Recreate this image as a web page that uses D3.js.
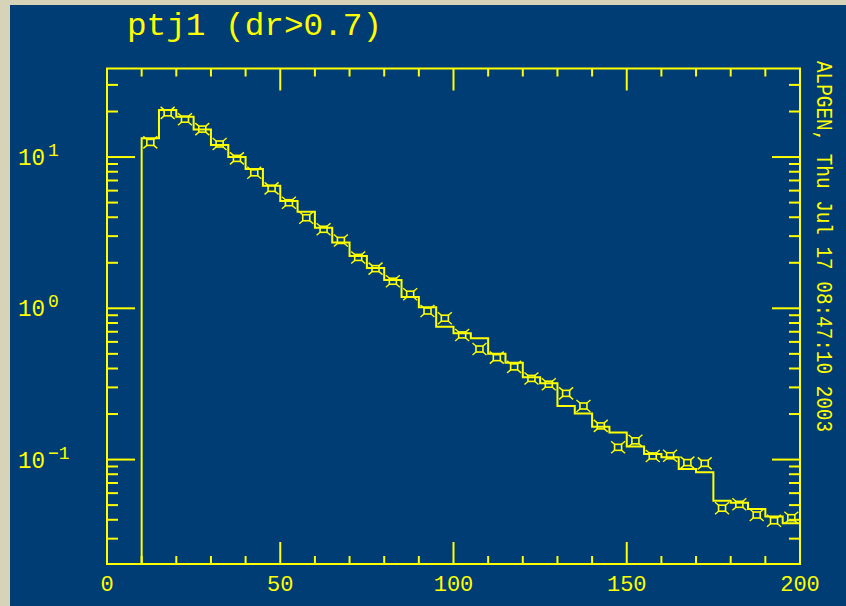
<!DOCTYPE html>
<html>
<head>
<meta charset="utf-8">
<script src="https://cdn.jsdelivr.net/npm/d3@7"></script>
<style>
  html, body { margin: 0; padding: 0; background: #d6d3b9; }
  svg { display: block; }
  text { font-family: "Liberation Mono", "DejaVu Sans Mono", monospace; fill: #ffff00; }
</style>
</head>
<body>
<div id="chart"></div>
<script>
// histogram bins (lower edge), width 5
const binStart = [10, 15, 20, 25, 30, 35, 40, 45, 50, 55, 60, 65, 70, 75, 80, 85, 90, 95, 100,
                  105, 110, 115, 120, 125, 130, 135, 140, 145, 150, 155, 160, 165, 170, 175,
                  180, 185, 190, 195];
const binEnd = 200;
// solid histogram
const histValues = [13.3, 20.5, 18.5, 15.2, 12.0, 10.0, 8.34, 6.45, 5.12, 4.35, 3.41, 2.72, 2.22,
                    1.85, 1.54, 1.19, 1.015, 0.755, 0.684, 0.634, 0.50, 0.436, 0.35, 0.319, 0.226,
                    0.202, 0.165, 0.151, 0.122, 0.109, 0.1035, 0.0866, 0.0824, 0.0535, 0.0518,
                    0.0472, 0.042, 0.038];
// points with error markers, at bin centres
const pointX = [12.5, 17.5, 22.5, 27.5, 32.5, 37.5, 42.5, 47.5, 52.5, 57.5, 62.5, 67.5, 72.5, 77.5,
                82.5, 87.5, 92.5, 97.5, 102.5, 107.5, 112.5, 117.5, 122.5, 127.5, 132.5, 137.5,
                142.5, 147.5, 152.5, 157.5, 162.5, 167.5, 172.5, 177.5, 182.5, 187.5, 192.5, 197.5];
const pointValues = [12.5, 19.6, 17.8, 15.3, 12.2, 9.8, 7.87, 6.21, 4.99, 3.97, 3.33, 2.81, 2.17,
                     1.83, 1.51, 1.24, 0.96, 0.86, 0.667, 0.538, 0.472, 0.41, 0.344, 0.315, 0.274,
                     0.226, 0.167, 0.1205, 0.133, 0.1057, 0.106, 0.0955, 0.0944, 0.0477, 0.0506,
                     0.043, 0.0394, 0.0413];
const xLabels = [0, 50, 100, 150, 200];
const yLabels = [{base: '10', exp: '1', v: 10}, {base: '10', exp: '0', v: 1}, {base: '10', exp: '\u22121', v: 0.1}];
const title = 'ptj1 (dr>0.7)';
const stamp = 'ALPGEN, Thu Jul 17 08:47:10 2003';

const width = 846, height = 606;
const mLeft = 107, mRight = 800, mTop = 68.5, mBottom = 564;
const yellow = '#ffff00';

const svg = d3.select('#chart').append('svg')
    .attr('width', width).attr('height', height);

// panel
svg.append('rect')
    .attr('x', 10).attr('y', 5)
    .attr('width', width - 10).attr('height', height - 5)
    .attr('fill', '#003d74');

const x = d3.scaleLinear().domain([0, 200]).range([mLeft, mRight]);
const y = d3.scaleLog().domain([0.0204, 38.5]).range([mBottom, mTop]);

const g = svg.append('g')
    .attr('stroke', yellow)
    .attr('stroke-width', 2)
    .attr('fill', 'none');

// frame
g.append('rect')
    .attr('x', mLeft).attr('y', mTop)
    .attr('width', mRight - mLeft).attr('height', mBottom - mTop);

// x ticks top and bottom
const xt = x.ticks(20);
xt.forEach(t => {
    const len = t % 50 === 0 ? 22 : 8;
    g.append('line').attr('x1', x(t)).attr('x2', x(t)).attr('y1', mBottom).attr('y2', mBottom - len);
    g.append('line').attr('x1', x(t)).attr('x2', x(t)).attr('y1', mTop).attr('y2', mTop + len);
});

// y ticks left and right
const yt = y.ticks();
yt.forEach(t => {
    const major = Math.abs(Math.log10(t) - Math.round(Math.log10(t))) < 1e-9;
    const len = major ? 28 : 11;
    g.append('line').attr('x1', mLeft).attr('x2', mLeft + len).attr('y1', y(t)).attr('y2', y(t));
    g.append('line').attr('x1', mRight).attr('x2', mRight - len).attr('y1', y(t)).attr('y2', y(t));
});

// histogram
const histPts = [{x: binStart[0], v: y.domain()[0]}]
    .concat(binStart.map((b, i) => ({x: b, v: histValues[i]})))
    .concat([{x: binEnd, v: histValues[histValues.length - 1]}]);

const step = d3.line()
    .x(d => x(d.x))
    .y(d => y(d.v))
    .curve(d3.curveStepAfter);

g.append('path')
    .datum(histPts)
    .attr('d', step);

// data points: box with corner ticks
const pts = g.selectAll('.pt')
    .data(pointX.map((px, i) => ({x: px, v: pointValues[i]})))
    .enter()
    .append('g')
    .attr('class', 'pt')
    .attr('transform', d => `translate(${x(d.x)},${y(d.v)})`);

pts.append('rect')
    .attr('x', -3.5).attr('y', -3)
    .attr('width', 7).attr('height', 6)
    .attr('stroke-width', 1.6);

[[-1, -1], [1, -1], [-1, 1], [1, 1]].forEach(([sx, sy]) => {
    pts.append('line')
        .attr('x1', sx * 3.5).attr('y1', sy * 3)
        .attr('x2', sx * 7).attr('y2', sy * 6)
        .attr('stroke-width', 1.4);
});

// x labels
svg.selectAll('.xl')
    .data(xLabels)
    .enter()
    .append('text')
    .attr('class', 'xl')
    .attr('x', d => x(d))
    .attr('y', 591)
    .attr('text-anchor', 'middle')
    .style('font-size', '22px')
    .text(d => d);

// y labels with superscripts
yLabels.forEach(l => {
    svg.append('text')
        .attr('x', 18).attr('y', y(l.v) + 8)
        .style('font-size', '23px')
        .attr('textLength', 27)
        .attr('lengthAdjust', 'spacingAndGlyphs')
        .text(l.base);
    svg.append('text')
        .attr('x', 48).attr('y', y(l.v) - 1)
        .style('font-size', '18px')
        .text(l.exp);
});

// title
svg.append('text')
    .attr('x', 127).attr('y', 35)
    .style('font-size', '31px')
    .attr('textLength', 255)
    .attr('lengthAdjust', 'spacingAndGlyphs')
    .text(title);

// side stamp
svg.append('text')
    .attr('transform', 'translate(817,61) rotate(90)')
    .style('font-size', '22px')
    .attr('textLength', 371)
    .attr('lengthAdjust', 'spacingAndGlyphs')
    .text(stamp);
</script>
</body>
</html>
